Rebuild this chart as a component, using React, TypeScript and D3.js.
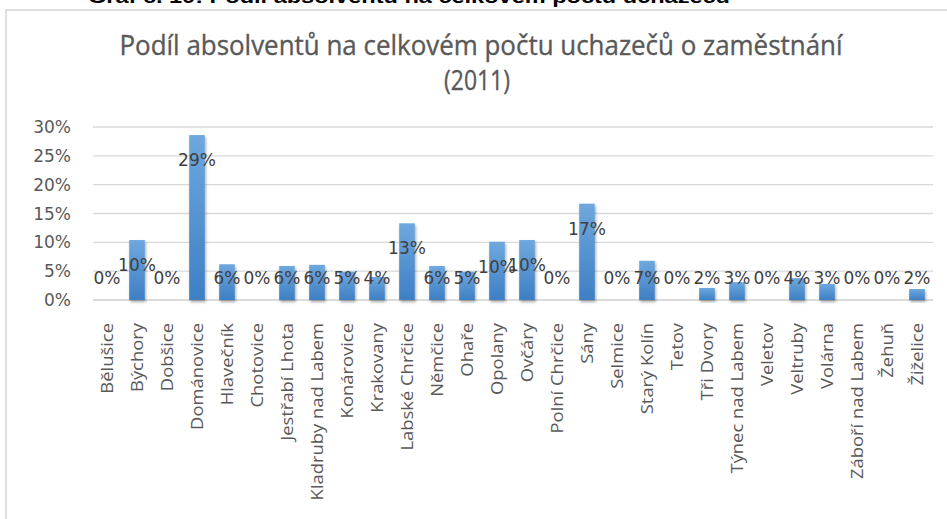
import React from "react";
import * as d3 from "d3";

const categories = [
  "Bělušice", "Býchory", "Dobšice", "Dománovice", "Hlavečník", "Chotovice",
  "Jestřabí Lhota", "Kladruby nad Labem", "Konárovice", "Krakovany",
  "Labské Chrčice", "Němčice", "Ohaře", "Opolany", "Ovčáry", "Polní Chrčice",
  "Sány", "Selmice", "Starý Kolín", "Tetov", "Tři Dvory", "Týnec nad Labem",
  "Veletov", "Veltruby", "Volárna", "Záboří nad Labem", "Žehuň", "Žiželice",
];
const values = [
  0, 10.4, 0, 28.6, 6.2, 0, 5.9, 6.1, 4.9, 4.0, 13.3, 5.9, 4.9, 10.1, 10.4, 0,
  16.7, 0, 6.8, 0, 2.1, 3.1, 0, 3.8, 2.8, 0, 0, 1.9,
];
const yTicks = [0, 5, 10, 15, 20, 25, 30];
const titleLine1 = "Podíl absolventů na celkovém počtu uchazečů o zaměstnání";
const titleLine2 = "(2011)";
const headerText = "Graf č. 19: Podíl absolventů na celkovém počtu uchazečů";

const W = 947;
const H = 519;
const plot = { left: 92, right: 932, top: 127, bottom: 300 };

export default function App() {
  const x = d3
    .scaleBand<string>()
    .domain(categories)
    .range([plot.left, plot.right])
    .paddingInner(0.48)
    .paddingOuter(0.24);
  const y = d3.scaleLinear().domain([0, 30]).range([plot.bottom, plot.top]);
  const fmt = (v: number) => d3.format(".0%")(Math.round(v) / 100);
  const bw = x.bandwidth();

  return (
    <svg
      width={W}
      height={H}
      viewBox={`0 0 ${W} ${H}`}
      style={{ position: "absolute", left: 0, top: 0, background: "#fff" }}
    >
      <defs>
        <linearGradient id="barGrad" x1="0" y1="0" x2="0" y2="1">
          <stop offset="0%" stopColor="#6ea8de" />
          <stop offset="100%" stopColor="#3e7fc4" />
        </linearGradient>
        <filter id="shadow" x="-30%" y="-10%" width="160%" height="130%">
          <feGaussianBlur in="SourceAlpha" stdDeviation="1.5" />
          <feOffset dx="1" dy="2" result="off" />
          <feComponentTransfer>
            <feFuncA type="linear" slope="0.35" />
          </feComponentTransfer>
          <feMerge>
            <feMergeNode />
            <feMergeNode in="SourceGraphic" />
          </feMerge>
        </filter>
      </defs>
      <rect x={0} y={0} width={W} height={H} fill="#fff" />
      {/* cut-off header */}
      <text
        x={88}
        y={3}
        textLength={642}
        lengthAdjust="spacingAndGlyphs"
        fontFamily="'Liberation Sans', Arial, sans-serif"
        fontWeight="bold"
        fontSize={19}
        fill="#000"
      >
        {headerText}
      </text>
      {/* chart frame */}
      <rect x={6} y={10} width={W + 10} height={H + 10} fill="#fff" stroke="#d4d4d4" strokeWidth={1.5} />
      {/* title */}
      <text
        x={481}
        y={55}
        textAnchor="middle"
        textLength={723}
        lengthAdjust="spacingAndGlyphs"
        fontFamily="'Open Sans', sans-serif"
        fontSize={27}
        fill="#595959"
        stroke="#595959"
        strokeWidth={0.35}
      >
        {titleLine1}
      </text>
      <text
        x={477}
        y={90}
        textAnchor="middle"
        fontFamily="'Open Sans', sans-serif"
        fontSize={27}
        fill="#595959"
        stroke="#595959"
        strokeWidth={0.35}
        transform="translate(477,0) scale(0.85,1) translate(-477,0)"
      >
        {titleLine2}
      </text>
      {/* gridlines */}
      {yTicks.map((t) => (
        <line
          key={"g" + t}
          x1={plot.left + 1}
          x2={plot.right + 1}
          y1={y(t)}
          y2={y(t)}
          stroke={t === 0 ? "#cfcfcf" : "#d9d9d9"}
          strokeWidth={1.3}
        />
      ))}
      {/* y tick labels */}
      {yTicks.map((t) => (
        <text
          key={"t" + t}
          x={71}
          y={y(t)}
          dy="0.36em"
          textAnchor="end"
          fontFamily="'DejaVu Sans', sans-serif"
          fontSize={17}
          fill="#595959"
        >
          {d3.format(".0%")(t / 100)}
        </text>
      ))}
      {/* bars */}
      {categories.map((c, i) => {
        const v = values[i];
        if (v <= 0) return null;
        return (
          <rect
            key={"b" + c}
            x={x(c)!}
            y={y(v)}
            width={bw}
            height={y(0) - y(v)}
            fill="url(#barGrad)"
            filter="url(#shadow)"
          />
        );
      })}
      {/* data labels */}
      {categories.map((c, i) => {
        const v = values[i];
        const cy = Math.min(y(v) + 25, y(0) - 22);
        return (
          <text
            key={"l" + c}
            x={x(c)! + bw / 2}
            y={cy}
            dy="0.36em"
            textAnchor="middle"
            fontFamily="'DejaVu Sans', sans-serif"
            fontSize={17}
            fill="#404040"
          >
            {fmt(v)}
          </text>
        );
      })}
      {/* x labels */}
      {categories.map((c) => {
        const cx = x(c)! + bw / 2;
        const ty = 323;
        return (
          <text
            key={"x" + c}
            transform={`translate(${cx},${ty}) rotate(-90) scale(1.15,1)`}
            dy="0.35em"
            textAnchor="end"
            fontFamily="'Open Sans', sans-serif"
            fontSize={16}
            fill="#595959"
          >
            {c}
          </text>
        );
      })}
    </svg>
  );
}
